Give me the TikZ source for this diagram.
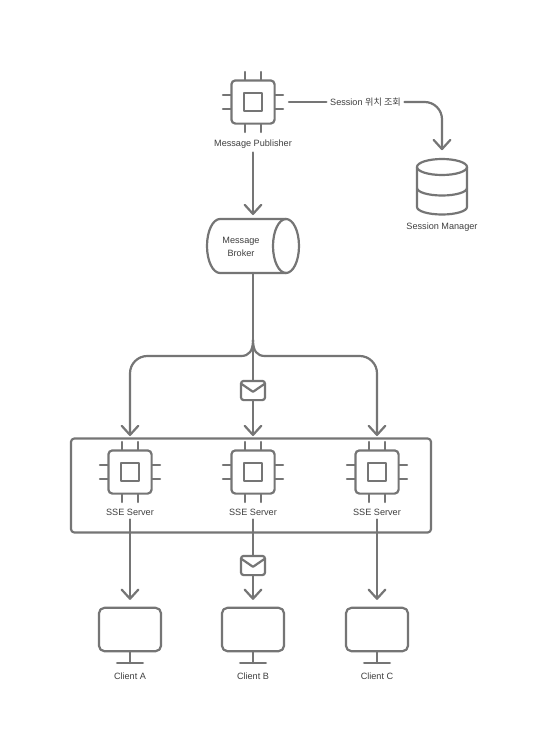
\documentclass[tikz,border=0pt]{standalone}
\usepackage{fontspec}
\setmainfont{Liberation Sans}
\newfontfamily\krfont{Noto Sans CJK KR}
\usetikzlibrary{arrows.meta}
\definecolor{ink}{HTML}{757575}
\definecolor{txt}{HTML}{3F3F3F}
\tikzset{
  line/.style={draw=ink,line width=1.65pt,line cap=round,line join=round},
  flow/.style={line,-{Straight Barb[length=6.8pt,width=12.4pt,line width=1.65pt,round]}},
  lbl/.style={text=txt,font=\fontsize{6.85pt}{9.8pt}\selectfont,inner sep=0pt,align=center},
  chipbody/.style={line,fill=white,rounded corners=3pt,minimum width=32.4pt,minimum height=32.4pt,inner sep=0pt,outer sep=0pt},
  chipcore/.style={line,minimum width=13pt,minimum height=13pt,inner sep=0pt,outer sep=0pt},
  mailbox/.style={line,fill=white,rounded corners=2pt,minimum width=18pt,minimum height=14.4pt,inner sep=0pt,outer sep=0pt},
  screen/.style={line,fill=white,rounded corners=4pt,minimum width=46.5pt,minimum height=32.5pt,inner sep=0pt,outer sep=0pt},
  frame/.style={line,rounded corners=2.5pt,minimum width=270pt,minimum height=70.5pt,inner sep=0pt,outer sep=0pt},
  ghost/.style={inner sep=0pt,outer sep=0pt},
}
\newcommand{\chipicon}[3]{%
  \begin{scope}[shift={(#2,#3)}]
    \foreach \p in {-8,8}{
      \draw[line] (\p,-30) -- (\p,-22);
      \draw[line] (\p,22) -- (\p,30);
      \draw[line] (-30,\p*0.85) -- (-22,\p*0.85);
      \draw[line] (22,\p*0.85) -- (30,\p*0.85);
    }
    \node[chipbody] (#1) at (0,0) {};
    \node[chipcore] (#1core) at (0,0) {};
  \end{scope}}
\newcommand{\mailicon}[3]{%
  \node[mailbox] (#1) at (#2,#3) {};
  \draw[line] ([xshift=0.3pt,yshift=-2.2pt]#1.north west) -- ([yshift=-1pt]#1.center) -- ([xshift=-0.3pt,yshift=-2.2pt]#1.north east);}
\newcommand{\monitoricon}[3]{%
  \node[screen] (#1) at (#2,#3) {};
  \coordinate (#1base) at (#2,663);
  \draw[line] (#1.south) -- (#1base);
  \draw[line] ([xshift=-9.7pt]#1base) -- ([xshift=9.7pt]#1base);}
\begin{document}
\begin{tikzpicture}[x=0.75pt,y=-0.75pt]
\useasboundingbox (0,0) rectangle (548,750);
\fill[white] (0,0) rectangle (548,750);

% publisher
\chipicon{pub}{253}{102}
\node[lbl] (publbl) at (253,144) {Message Publisher};

% session manager
\node[ghost,minimum width=37.5pt,minimum height=41.5pt] (db) at (442,186.5) {};
\draw[line] (417,167) -- (417,207) arc[start angle=180,end angle=0,x radius=25,y radius=7.5] -- (467,167);
\draw[line] (442,167) ellipse[x radius=25,y radius=8];
\draw[line] (417,188) arc[start angle=180,end angle=0,x radius=25,y radius=7.5];
\node[lbl] (dblbl) at (442,227.5) {Session Manager};

% session link
\coordinate (sessstart) at (289,102);
\node[lbl,inner xsep=2.6pt,minimum height=8pt] (sesslbl) at (365.5,102) {Session {\krfont 위치 조회}};
\draw[line] (sessstart) -- (sesslbl.west);
\draw[flow,rounded corners=13pt,shorten >=6.5pt] (sesslbl.east) -| (db.north);

% broker
\node[ghost,minimum width=69pt,minimum height=40.5pt] (broker) at (253,246) {};
\draw[line] (286,219) -- (220,219) arc[start angle=270,end angle=90,x radius=13,y radius=27] -- (286,273);
\draw[line] (286,246) ellipse[x radius=13,y radius=27];
\node[lbl] (brokerlbl) at (241,246.5) {Message\\Broker};
\draw[flow,shorten <=3pt,shorten >=3pt] (publbl.south) -- (broker.north);

% frame
\node[frame] (group) at (251,485.5) {};
\chipicon{srva}{130}{472}
\chipicon{srvb}{253}{472}
\chipicon{srvc}{377}{472}
\node[lbl] (srvalbl) at (130,512) {SSE Server};
\node[lbl] (srvblbl) at (253,512) {SSE Server};
\node[lbl] (srvclbl) at (377,512) {SSE Server};

% fan out
\coordinate (fork) at (253,340);
\coordinate (tipa) at (130,436);
\coordinate (tipb) at (253,436);
\coordinate (tipc) at (377,436);
\draw[line] (broker.south) -- (fork);
\draw[flow,rounded corners=13pt] (241,356) -- (130,356) -- (tipa);
\draw[flow,rounded corners=13pt] (265,356) -- (377,356) -- (tipc);
\draw[line] (fork) .. controls (253,351) and (249,356) .. (241,356);
\draw[line] (fork) .. controls (253,351) and (257,356) .. (265,356);
\draw[flow] (fork) -- (tipb);
\mailicon{maila}{253}{390.5}

% clients
\monitoricon{cla}{130}{629.5}
\monitoricon{clb}{253}{629.5}
\monitoricon{clc}{377}{629.5}
\node[lbl] (clalbl) at (130,676.5) {Client A};
\node[lbl] (clblbl) at (253,676.5) {Client B};
\node[lbl] (clclbl) at (377,676.5) {Client C};
\draw[flow,shorten <=3pt,shorten >=6pt] (srvalbl.south) -- (cla.north);
\draw[flow,shorten <=3pt,shorten >=6pt] (srvblbl.south) -- (clb.north);
\draw[flow,shorten <=3pt,shorten >=6pt] (srvclbl.south) -- (clc.north);
\mailicon{mailb}{253}{565.5}
\end{tikzpicture}
\end{document}
